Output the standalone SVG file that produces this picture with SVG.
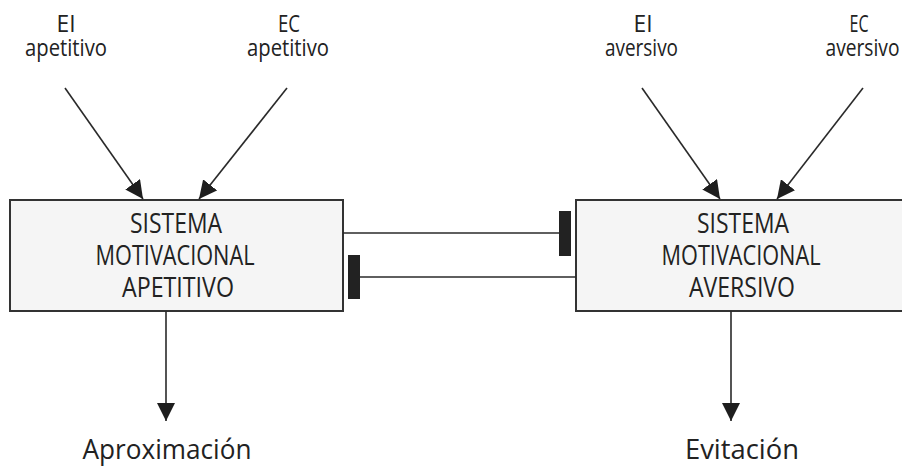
<svg xmlns="http://www.w3.org/2000/svg" width="902" height="466" viewBox="0 0 902 466">
  <style>
    .box { fill: #f5f5f5; stroke: #333333; stroke-width: 2; }
    .edge { stroke: #2a2a2a; stroke-width: 1.6; fill: none; }
    .bar { fill: #222222; }
    .lbl { font-family: "Open Sans", "Liberation Sans", sans-serif; fill: #222222; text-anchor: middle; }
    .small { font-size: 24px; }
    .sys { font-size: 27px; }
    .out { font-size: 27px; }
  </style>
  <defs>
    <marker id="arrow" viewBox="0 0 18 18" refX="18" refY="9" markerWidth="18" markerHeight="18" markerUnits="userSpaceOnUse" orient="auto">
      <path d="M0,0 L18,9 L0,18 z" fill="#1e1e1e"/>
    </marker>
  </defs>

  <rect width="902" height="466" fill="#ffffff"/>

  <!-- stimulus labels -->
  <g id="ei-apetitivo">
    <text class="lbl small" x="66" y="32" textLength="19" lengthAdjust="spacingAndGlyphs">EI</text>
    <text class="lbl small" x="66" y="56" textLength="82" lengthAdjust="spacingAndGlyphs">apetitivo</text>
  </g>
  <g id="ec-apetitivo">
    <text class="lbl small" x="289" y="32" textLength="22" lengthAdjust="spacingAndGlyphs">EC</text>
    <text class="lbl small" x="288" y="56" textLength="82" lengthAdjust="spacingAndGlyphs">apetitivo</text>
  </g>
  <g id="ei-aversivo">
    <text class="lbl small" x="643" y="32" textLength="19" lengthAdjust="spacingAndGlyphs">EI</text>
    <text class="lbl small" x="641.5" y="56" textLength="73" lengthAdjust="spacingAndGlyphs">aversivo</text>
  </g>
  <g id="ec-aversivo">
    <text class="lbl small" x="859" y="32" textLength="19" lengthAdjust="spacingAndGlyphs">EC</text>
    <text class="lbl small" x="862.5" y="56" textLength="74" lengthAdjust="spacingAndGlyphs">aversivo</text>
  </g>

  <!-- motivational systems -->
  <g id="sistema-apetitivo">
    <rect class="box" x="10" y="200" width="333" height="111"/>
    <text class="lbl sys" x="176" y="233" textLength="92" lengthAdjust="spacingAndGlyphs">SISTEMA</text>
    <text class="lbl sys" x="175" y="265" textLength="159" lengthAdjust="spacingAndGlyphs">MOTIVACIONAL</text>
    <text class="lbl sys" x="178" y="297" textLength="112" lengthAdjust="spacingAndGlyphs">APETITIVO</text>
  </g>
  <g id="sistema-aversivo">
    <rect class="box" x="576" y="200" width="340" height="111"/>
    <text class="lbl sys" x="743" y="233" textLength="92" lengthAdjust="spacingAndGlyphs">SISTEMA</text>
    <text class="lbl sys" x="741" y="265" textLength="159" lengthAdjust="spacingAndGlyphs">MOTIVACIONAL</text>
    <text class="lbl sys" x="742" y="297" textLength="106" lengthAdjust="spacingAndGlyphs">AVERSIVO</text>
  </g>

  <!-- behavioural outputs -->
  <g id="aproximacion">
    <text class="lbl out" x="167" y="459" textLength="169" lengthAdjust="spacingAndGlyphs">Aproximación</text>
  </g>
  <g id="evitacion">
    <text class="lbl out" x="742" y="459" textLength="114" lengthAdjust="spacingAndGlyphs">Evitación</text>
  </g>

  <!-- connectors -->
  <g id="connectors">
    <line class="edge" x1="65" y1="88" x2="143" y2="199" marker-end="url(#arrow)"/>
    <line class="edge" x1="287" y1="88" x2="199" y2="199" marker-end="url(#arrow)"/>
    <line class="edge" x1="642" y1="88" x2="720" y2="199" marker-end="url(#arrow)"/>
    <line class="edge" x1="863" y1="88" x2="777" y2="199" marker-end="url(#arrow)"/>

    <line class="edge" x1="166" y1="311" x2="166" y2="421" marker-end="url(#arrow)"/>
    <line class="edge" x1="731" y1="311" x2="731" y2="421" marker-end="url(#arrow)"/>

    <!-- mutual inhibition -->
    <line class="edge" x1="343" y1="233" x2="559" y2="233"/>
    <rect class="bar" x="559" y="211" width="12" height="45"/>
    <line class="edge" x1="360" y1="277" x2="576" y2="277"/>
    <rect class="bar" x="348" y="255" width="12" height="44"/>
  </g>
</svg>
